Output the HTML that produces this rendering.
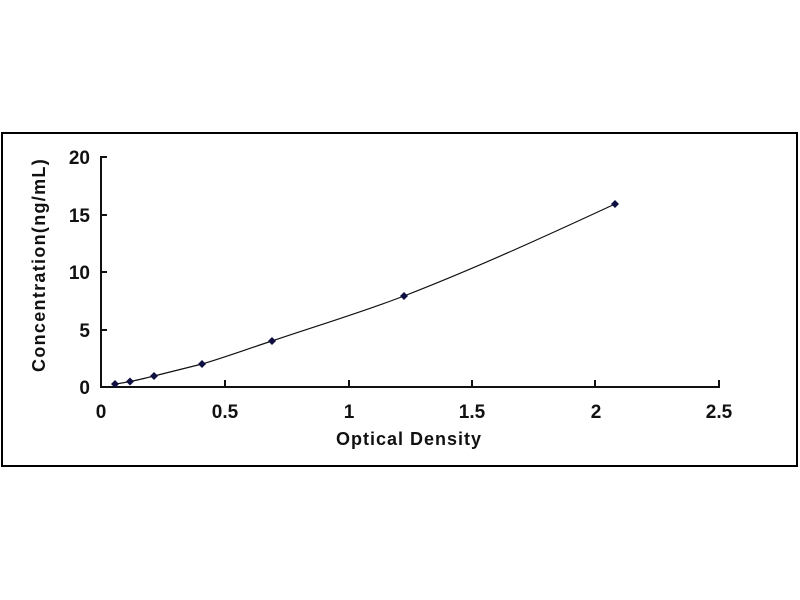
<!DOCTYPE html>
<html><head><style>
html,body{margin:0;padding:0;background:#fff;}
svg{display:block;}
text{font-family:"Liberation Sans",Arial,sans-serif;font-weight:bold;fill:#111;}
</style></head><body>
<svg width="800" height="600" viewBox="0 0 800 600">
<rect x="0" y="0" width="800" height="600" fill="#fff"/>
<rect x="2" y="133" width="795" height="333" fill="none" stroke="#000" stroke-width="2"/>
<g stroke="#111" stroke-width="2" fill="none">
<line x1="101" y1="156" x2="101" y2="388"/>
<line x1="100" y1="387" x2="720" y2="387"/>
<line x1="101" y1="157" x2="107" y2="157"/>
<line x1="101" y1="215" x2="107" y2="215"/>
<line x1="101" y1="272" x2="107" y2="272"/>
<line x1="101" y1="330" x2="107" y2="330"/>
<line x1="225" y1="387" x2="225" y2="380"/>
<line x1="349" y1="387" x2="349" y2="380"/>
<line x1="472" y1="387" x2="472" y2="380"/>
<line x1="595" y1="387" x2="595" y2="380"/>
<line x1="719" y1="387" x2="719" y2="380"/>
</g>
<path d="M115,384 C120,383.5 125,382.5 130,381.5 C138,380 146,378 154,376 C170,372 186,368 202,364 C226,357 250,348 272,341 C316,326 360,313 404,296 C476,268 546,236 615,204" stroke="#111" stroke-width="1.2" fill="none"/>
<g fill="#0d1040">
<path d="M115,380 l4,4 -4,4 -4,-4z"/>
<path d="M130,377.5 l4,4 -4,4 -4,-4z"/>
<path d="M154,372 l4,4 -4,4 -4,-4z"/>
<path d="M202,360 l4,4 -4,4 -4,-4z"/>
<path d="M272,337 l4,4 -4,4 -4,-4z"/>
<path d="M404,292 l4,4 -4,4 -4,-4z"/>
<path d="M615,200 l4,4 -4,4 -4,-4z"/>
</g>
<g font-size="19" text-anchor="end">
<text x="90" y="164">20</text>
<text x="90" y="222">15</text>
<text x="90" y="279">10</text>
<text x="90" y="337">5</text>
<text x="90" y="394">0</text>
</g>
<g font-size="19" text-anchor="middle">
<text x="101" y="418">0</text>
<text x="225" y="418">0.5</text>
<text x="349" y="418">1</text>
<text x="472" y="418">1.5</text>
<text x="596" y="418">2</text>
<text x="719" y="418">2.5</text>
</g>
<text x="409" y="445" font-size="18" letter-spacing="1" text-anchor="middle">Optical Density</text>
<text transform="translate(45,265) rotate(-90)" font-size="18" letter-spacing="1.3" text-anchor="middle">Concentration(ng/mL)</text>
</svg>
</body></html>
